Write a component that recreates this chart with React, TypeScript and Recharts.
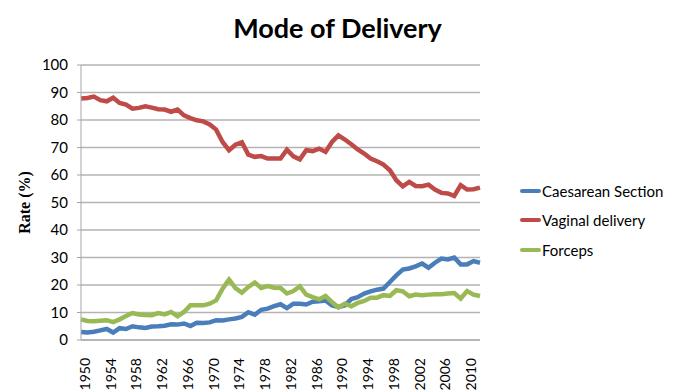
import { LineChart, Line, XAxis, YAxis, CartesianGrid, Legend } from 'recharts';

// years 1950..2012
const years = [
  1950, 1951, 1952, 1953, 1954, 1955, 1956, 1957, 1958, 1959,
  1960, 1961, 1962, 1963, 1964, 1965, 1966, 1967, 1968, 1969,
  1970, 1971, 1972, 1973, 1974, 1975, 1976, 1977, 1978, 1979,
  1980, 1981, 1982, 1983, 1984, 1985, 1986, 1987, 1988, 1989,
  1990, 1991, 1992, 1993, 1994, 1995, 1996, 1997, 1998, 1999,
  2000, 2001, 2002, 2003, 2004, 2005, 2006, 2007, 2008, 2009,
  2010, 2011, 2012,
];

const caesarean = [
  2.9, 2.7, 3.0, 3.5, 4.0, 2.7, 4.3, 4.0, 5.0, 4.6,
  4.4, 4.9, 5.0, 5.2, 5.7, 5.6, 6.0, 5.1, 6.3, 6.2,
  6.4, 7.2, 7.1, 7.5, 7.8, 8.4, 10.1, 9.2, 11.0, 11.4,
  12.3, 13.0, 11.6, 13.2, 13.2, 12.9, 13.9, 14.1, 14.4, 12.6,
  12.0, 12.6, 14.9, 15.6, 16.9, 17.7, 18.3, 18.7, 21.1, 23.5,
  25.6, 26.0, 26.8, 27.8, 26.3, 28.1, 29.6, 29.3, 30.0, 27.5,
  27.5, 28.7, 28.1,
];

const vaginal = [
  87.8, 88.0, 88.5, 87.2, 86.8, 88.1, 86.2, 85.6, 84.1, 84.4,
  85.0, 84.5, 83.9, 83.8, 83.0, 83.8, 81.7, 80.7, 79.9, 79.5,
  78.4, 76.5, 72.0, 69.0, 71.0, 71.9, 67.4, 66.6, 66.9, 66.0,
  66.0, 66.0, 69.2, 66.8, 65.7, 69.0, 68.7, 69.6, 68.4, 72.0,
  74.4, 72.9, 71.2, 69.3, 67.8, 66.0, 65.0, 63.8, 61.7, 58.1,
  55.9, 57.5, 56.0, 55.9, 56.5, 54.7, 53.5, 53.3, 52.4, 56.3,
  54.7, 54.8, 55.4,
];

const forceps = [
  7.5, 6.9, 6.8, 7.0, 7.2, 6.5, 7.5, 8.7, 9.8, 9.3,
  9.1, 9.0, 9.8, 9.3, 10.2, 8.6, 10.2, 12.6, 12.6, 12.6,
  13.2, 14.4, 18.7, 22.0, 18.9, 17.2, 19.3, 20.9, 18.9, 19.6,
  19.0, 18.9, 16.9, 17.8, 19.5, 16.5, 15.6, 14.8, 16.0, 13.8,
  11.8, 13.2, 12.3, 13.5, 14.2, 15.4, 15.4, 16.3, 16.0, 18.1,
  17.7, 15.9, 16.5, 16.3, 16.5, 16.6, 16.6, 16.9, 17.1, 15.1,
  17.8, 16.5, 16.0,
];

const xTicks = [1950, 1954, 1958, 1962, 1966, 1970, 1974, 1978, 1982, 1986, 1990, 1994, 1998, 2002, 2006, 2010];
const yTicks = [0, 10, 20, 30, 40, 50, 60, 70, 80, 90, 100];

const series = [
  { key: 'caesarean', name: 'Caesarean Section', color: '#4a7ebb' },
  { key: 'vaginal', name: 'Vaginal delivery', color: '#be4b48' },
  { key: 'forceps', name: 'Forceps', color: '#98b954' },
];

const data = years.map((year, i) => ({
  year,
  caesarean: caesarean[i],
  vaginal: vaginal[i],
  forceps: forceps[i],
}));

const font = 'Lato, "Open Sans", sans-serif';

function YearTick(props: any) {
  const { x, y, payload } = props;
  const ty = y + 10;
  return (
    <text
      x={x}
      y={ty}
      dy={9}
      textAnchor="end"
      transform={`rotate(-90, ${x}, ${ty})`}
      fontFamily={font}
      fontSize={14}
      fill="#000"
    >
      {payload.value}
    </text>
  );
}

function LegendBox() {
  return (
    <div style={{ fontFamily: font, fontSize: 15, color: '#000' }}>
      {series.map((s) => (
        <div key={s.key} style={{ display: 'flex', alignItems: 'center', height: 29.5 }}>
          <div style={{ width: 21, height: 4, borderRadius: 2, background: s.color, marginRight: 1 }} />
          <span>{s.name}</span>
        </div>
      ))}
    </div>
  );
}

export default function App() {
  return (
    <div style={{ position: 'absolute', left: 0, top: 0, width: 675, height: 390, background: '#fff' }}>
      <div
        style={{
          position: 'absolute',
          left: 0,
          top: 11,
          width: 675,
          textAlign: 'center',
          fontFamily: font,
          fontWeight: 'bold',
          fontSize: 27,
          color: '#000',
        }}
      >
        Mode of Delivery
      </div>
      <LineChart
        width={675}
        height={390}
        data={data}
        margin={{ top: 65, right: 40, bottom: 0, left: 0 }}
      >
        <CartesianGrid vertical={false} stroke="#b3b3b3" strokeWidth={1.3} />
        <XAxis
          dataKey="year"
          type="number"
          domain={[1950, 2012]}
          ticks={xTicks}
          interval={0}
          height={50}
          stroke="#a6a6a6"
          tickLine={false}
          tick={<YearTick />}
        />
        <YAxis
          domain={[0, 100]}
          ticks={yTicks}
          interval={0}
          width={81}
          stroke="#a6a6a6"
          tickSize={4}
          tickMargin={9}
          tick={{ fontSize: 15, fill: '#000', fontFamily: font }}
          label={{
            value: 'Rate (%)',
            angle: -90,
            position: 'insideLeft',
            offset: 0,
            dx: 24,
            style: { fontFamily: '"Liberation Serif", serif', fontWeight: 'bold', fontSize: 16, fill: '#000', textAnchor: 'middle' },
          }}
        />
        <Legend
          layout="vertical"
          align="right"
          verticalAlign="middle"
          width={155}
          content={<LegendBox />}
          wrapperStyle={{ position: 'absolute', left: 520, top: 176, width: 155 }}
        />
        {series.map((s) => (
          <Line
            key={s.key}
            type="linear"
            dataKey={s.key}
            name={s.name}
            stroke={s.color}
            strokeWidth={4.5}
            dot={false}
            isAnimationActive={false}
          />
        ))}
      </LineChart>
    </div>
  );
}
